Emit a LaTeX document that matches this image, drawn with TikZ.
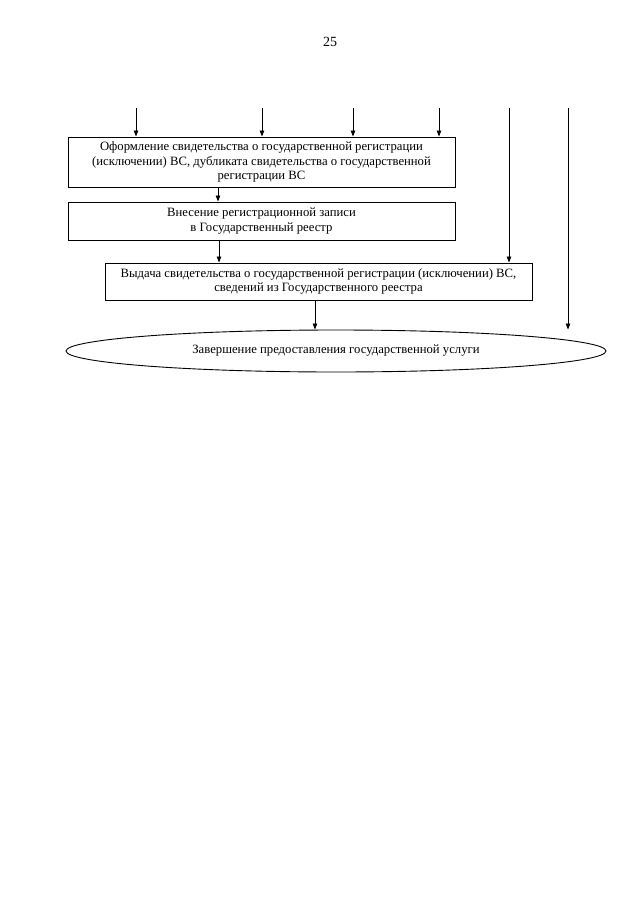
\documentclass[tikz,border=0pt]{standalone}
\usepackage{fontspec}
\setmainfont{Liberation Serif}
\usetikzlibrary{shapes.geometric, arrows.meta, positioning}
\tikzset{
	stepbox/.style={rectangle, draw=black, line width=0.9pt, align=center, inner sep=1pt, font=\fontsize{12.7}{14.2}\selectfont},
	finish/.style={ellipse, draw=black, line width=0.9pt, align=center, inner sep=0pt, font=\fontsize{12.7}{14.2}\selectfont},
	flowarrow/.style={-{Triangle[length=6pt, width=4.5pt]}, line width=0.8pt},
}
\begin{document}
\begin{tikzpicture}[x=1pt, y=-1pt]
	\useasboundingbox (0,0) rectangle (640,905);
	\node[font=\fontsize{14}{16}\selectfont] (page) at (330,42) {25};
	% boxes
	\node[stepbox, minimum width=387pt, minimum height=50pt] (issue) at (261.5,162)
		{Оформление свидетельства о государственной регистрации\\(исключении) ВС, дубликата свидетельства о государственной\\регистрации ВС};
	\node[stepbox, minimum width=387pt, minimum height=38pt] (entry) at (261.5,221)
		{Внесение регистрационной записи\\в Государственный реестр};
	\node[stepbox, minimum width=427pt, minimum height=37pt] (handout) at (318.5,281.5)
		{Выдача свидетельства о государственной регистрации (исключении) ВС,\\сведений из Государственного реестра};
	\node[finish, minimum width=540pt, minimum height=42pt] (done) at (336,351)
		{Завершение предоставления государственной услуги};
	% incoming ends
	\coordinate (inA) at (136,108);
	\coordinate (inB) at (262,108);
	\coordinate (inC) at (353,108);
	\coordinate (inD) at (439,108);
	\coordinate (inE) at (509,108);
	\coordinate (inF) at (568,108);
	\foreach \c in {inA, inB, inC, inD}
		\draw[flowarrow] (\c) -- (\c |- issue.north);
	\draw[flowarrow] (inE) -- (inE |- handout.north);
	\draw[flowarrow] (inF) -- (inF |- done.north);
	% links
	\draw[flowarrow] (218,187) coordinate (s1) -- (s1 |- entry.north);
	\draw[flowarrow] (entry.south -| 219,0) coordinate (s2) -- (s2 |- handout.north);
	\draw[flowarrow] (handout.south -| 315,0) coordinate (s3) -- (s3 |- done.north);
\end{tikzpicture}
\end{document}
